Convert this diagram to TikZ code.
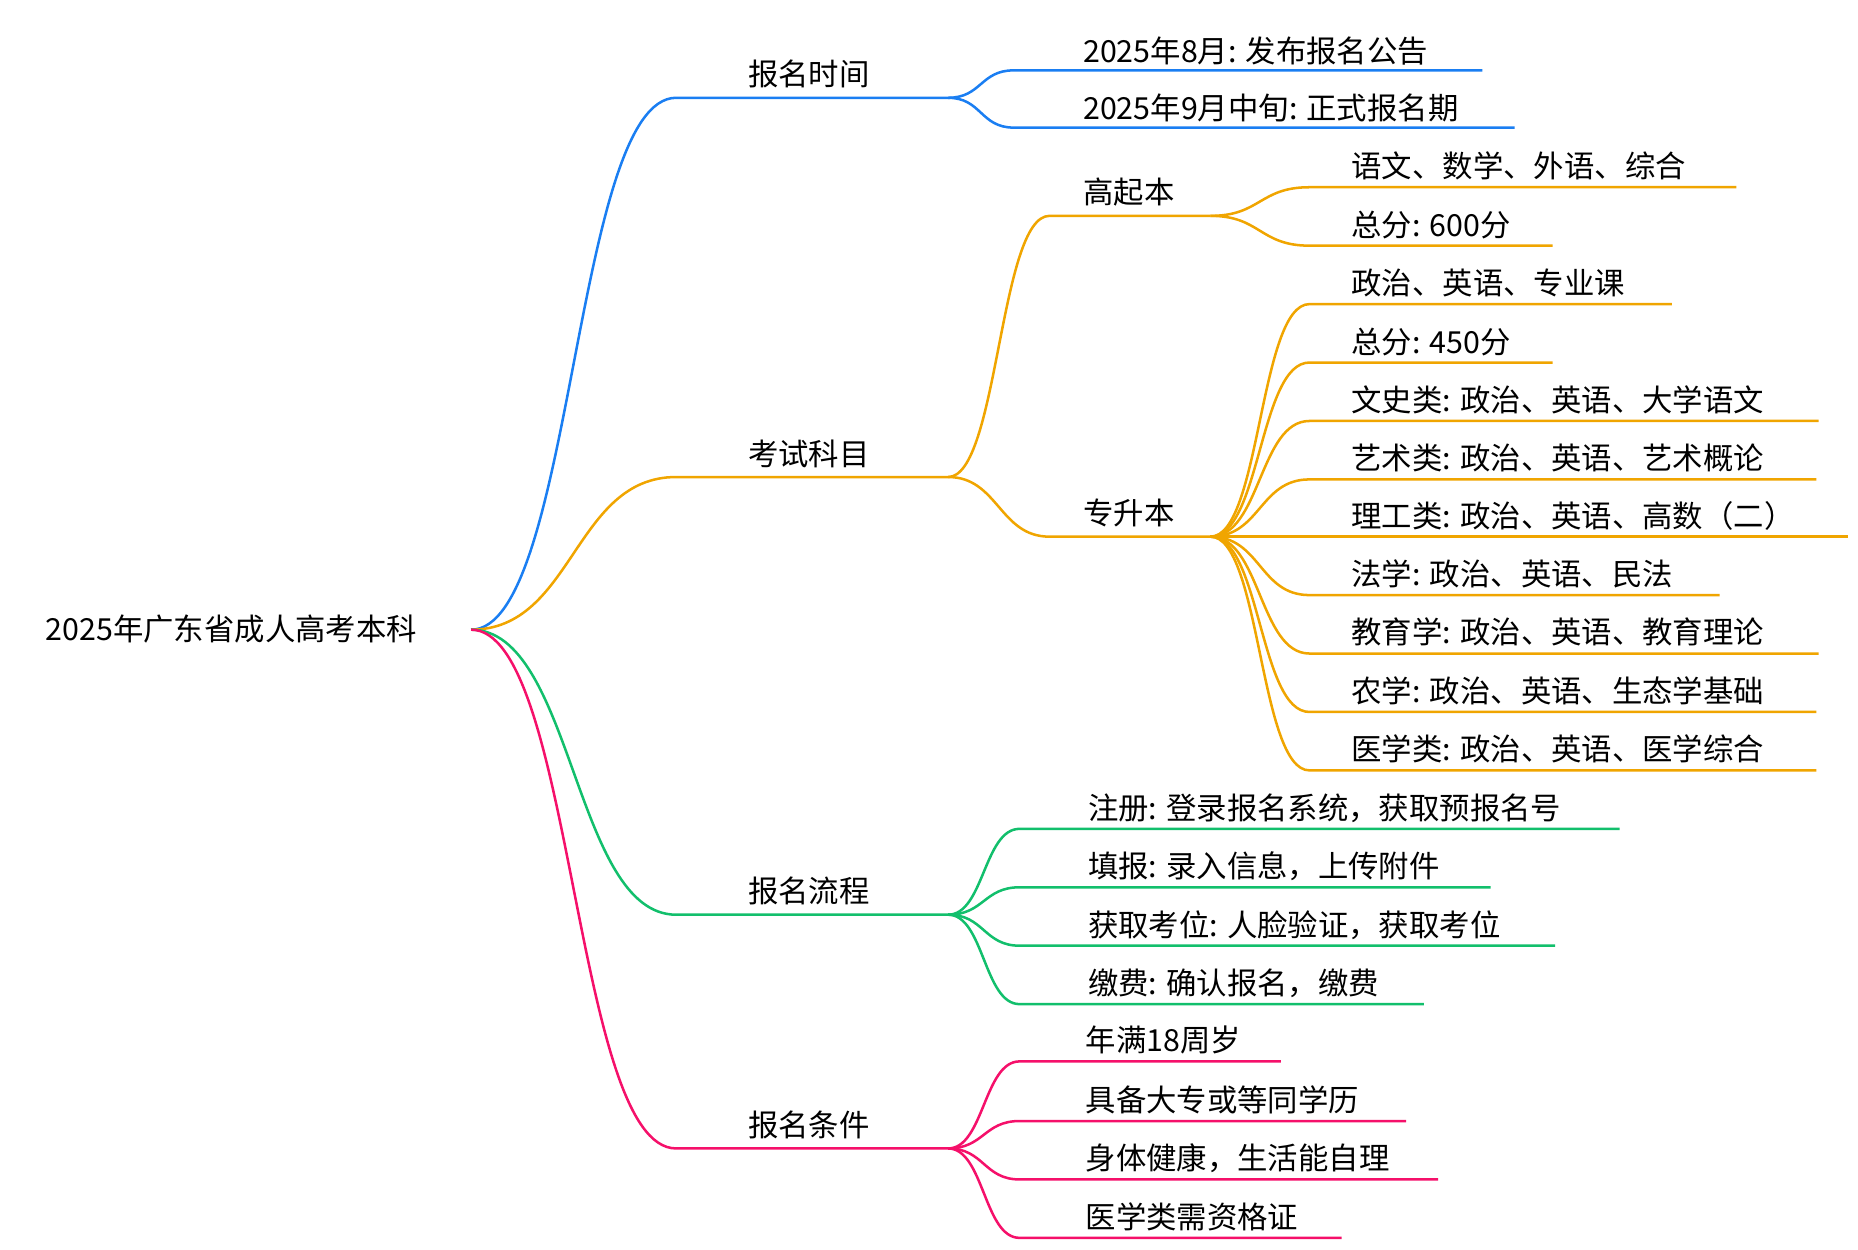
\documentclass[tikz,border=0pt]{standalone}
\usepackage{fontspec}
\setmainfont{Noto Sans CJK SC}
\usetikzlibrary{positioning,calc}
\definecolor{cblue}{HTML}{1A7EF2}
\definecolor{corange}{HTML}{F0A500}
\definecolor{cgreen}{HTML}{12BF6C}
\definecolor{cpink}{HTML}{F5106A}
\tikzset{
  lbl/.style={anchor=base west, inner sep=0pt, font=\fontsize{14.5pt}{16pt}\selectfont},
  link/.style={line width=1.2pt},
}
% twig: colour, start, bend, end, control offset
\newcommand\twig[5]{\draw[link,#1] (#2) .. controls +(#5,0) and +(-#5,0) .. (#3) -- (#4);}
\begin{document}
\begin{tikzpicture}[x=0.02cm,y=-0.02cm]
    \useasboundingbox (0,0) rectangle (1558,1048);

    \node[lbl] (root) at (38,537) {2025年广东省成人高考本科};
    \coordinate (r) at (395,528);

    % level 1
    \foreach \n/\y/\t in {time/82/报名时间, subj/400/考试科目, flow/767/报名流程, cond/963/报名条件}{
      \node[lbl] (\n) at (627,\y-10) {\t};
      \coordinate (\n-a) at (567,\y);
      \coordinate (\n-b) at (795,\y);
    }
    \twig{cblue}{r}{time-a}{time-b}{86}
    \twig{corange}{r}{subj-a}{subj-b}{86}
    \twig{cgreen}{r}{flow-a}{flow-b}{86}
    \twig{cpink}{r}{cond-a}{cond-b}{86}

    % 报名时间
    \foreach \i/\y/\e/\t in {1/59/1243/2025年8月: 发布报名公告, 2/107/1270/2025年9月中旬: 正式报名期}{
      \node[lbl] (time\i) at (908,\y-7) {\t};
      \coordinate (time\i-a) at (850,\y);
      \coordinate (time\i-b) at (\e,\y);
      \twig{cblue}{time-b}{time\i-a}{time\i-b}{28}
    }

    % 考试科目
    \foreach \n/\y/\t in {gqb/181/高起本, zsb/450/专升本}{
      \node[lbl] (\n) at (908,\y-10) {\t};
      \coordinate (\n-a) at (880,\y);
      \coordinate (\n-b) at (1015,\y);
      \twig{corange}{subj-b}{\n-a}{\n-b}{42}
    }
    \foreach \i/\y/\e/\t in {1/157/1456/语文、数学、外语、综合, 2/206/1302/总分: 600分}{
      \node[lbl] (gqb\i) at (1133,\y-8) {\t};
      \coordinate (gqb\i-a) at (1098,\y);
      \coordinate (gqb\i-b) at (\e,\y);
      \twig{corange}{gqb-b}{gqb\i-a}{gqb\i-b}{42}
    }
    \foreach \i/\y/\e/\t in {1/255/1402/政治、英语、专业课, 2/304/1302/总分: 450分,
      3/353/1525/文史类: 政治、英语、大学语文, 4/402/1523/艺术类: 政治、英语、艺术概论,
      5/450/1550/理工类: 政治、英语、高数（二）, 6/499/1442/法学: 政治、英语、民法,
      7/548/1525/教育学: 政治、英语、教育理论, 8/597/1523/农学: 政治、英语、生态学基础,
      9/646/1523/医学类: 政治、英语、医学综合}{
      \node[lbl] (zsb\i) at (1133,\y-8) {\t};
      \coordinate (zsb\i-a) at (1098,\y);
      \coordinate (zsb\i-b) at (\e,\y);
      \twig{corange}{zsb-b}{zsb\i-a}{zsb\i-b}{42}
    }

    % 报名流程
    \foreach \i/\y/\e/\t in {1/695/1358/注册: 登录报名系统，获取预报名号, 2/744/1250/填报: 录入信息，上传附件,
      3/793/1304/获取考位: 人脸验证，获取考位, 4/842/1194/缴费: 确认报名，缴费}{
      \node[lbl] (flow\i) at (912,\y-8) {\t};
      \coordinate (flow\i-a) at (855,\y);
      \coordinate (flow\i-b) at (\e,\y);
      \twig{cgreen}{flow-b}{flow\i-a}{flow\i-b}{30}
    }

    % 报名条件
    \foreach \i/\y/\e/\t in {1/890/1074/年满18周岁, 2/940/1179/具备大专或等同学历,
      3/989/1206/身体健康，生活能自理, 4/1038/1125/医学类需资格证}{
      \node[lbl] (cond\i) at (910,\y-8) {\t};
      \coordinate (cond\i-a) at (855,\y);
      \coordinate (cond\i-b) at (\e,\y);
      \twig{cpink}{cond-b}{cond\i-a}{cond\i-b}{30}
    }
\end{tikzpicture}
\end{document}
